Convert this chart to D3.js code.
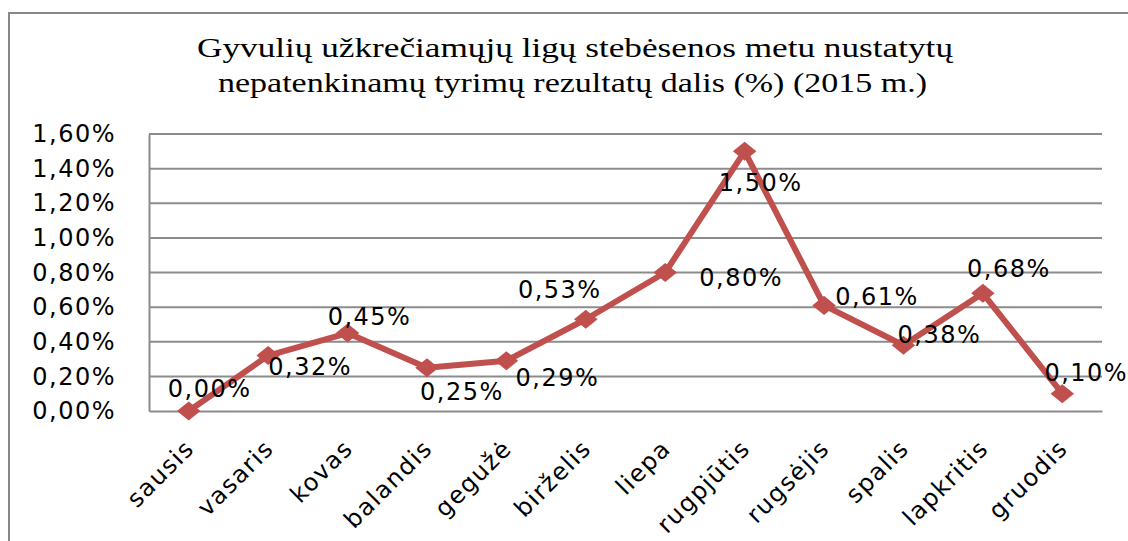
<!DOCTYPE html>
<html>
<head>
<meta charset="utf-8">
<script src="https://cdn.jsdelivr.net/npm/d3@7"></script>
<style>
  body { margin: 0; background: #fff; }
  svg { display: block; }
</style>
</head>
<body>
<script>
// chart data
const months = ['sausis', 'vasaris', 'kovas', 'balandis', 'gegužė', 'birželis',
  'liepa', 'rugpjūtis', 'rugsėjis', 'spalis', 'lapkritis', 'gruodis'];
const values = [0.00, 0.32, 0.45, 0.25, 0.29, 0.53, 0.80, 1.50, 0.61, 0.38, 0.68, 0.10];
const yTicks = [0, 0.2, 0.4, 0.6, 0.8, 1.0, 1.2, 1.4, 1.6];
const titleLines = [
  'Gyvulių užkrečiamųjų  ligų stebėsenos metu nustatytų',
  'nepatenkinamų tyrimų rezultatų dalis (%) (2015  m.)',
];

// where each value label sits, relative to its point (layout only)
const labelShift = [[21, -23], [42, 11], [22, -17], [35, 24], [51, 17], [-26, -30],
  [76, 5], [16, 31], [53, -9], [36, -11], [26, -25], [24, -21]];

const width = 1128;
const height = 541;
const plot = { left: 149, right: 1102, top: 134, bottom: 411 };
const red = '#c0504d';
const gridColor = '#8c8c8c';
const sans = '"DejaVu Sans", Verdana, sans-serif';

const fmt = v => `${v.toFixed(2).replace('.', ',')}%`;

const svg = d3.select('body').append('svg')
  .attr('width', width)
  .attr('height', height);

// outer frame of the chart
svg.append('rect')
  .attr('x', 9).attr('y', 13)
  .attr('width', 1200).attr('height', 600)
  .attr('fill', 'none')
  .attr('stroke', '#878787')
  .attr('stroke-width', 2);

// title
svg.append('g').selectAll('text')
  .data(titleLines)
  .enter()
  .append('text')
  .attr('x', (d, i) => (i === 0 ? 197 : 218))
  .attr('y', (d, i) => 57 + i * 35)
  .attr('textLength', (d, i) => (i === 0 ? 756 : 709))
  .attr('lengthAdjust', 'spacingAndGlyphs')
  .attr('font-family', '"Liberation Serif", "Times New Roman", serif')
  .attr('font-size', 27)
  .attr('fill', '#000')
  .text(d => d);

const x = d3.scaleBand()
  .domain(months)
  .range([plot.left, plot.right]);

const y = d3.scaleLinear()
  .domain([0, 1.6])
  .range([plot.bottom, plot.top]);

// gridlines
svg.append('g')
  .selectAll('line')
  .data(yTicks.slice(1))
  .enter()
  .append('line')
  .attr('x1', plot.left)
  .attr('x2', plot.right)
  .attr('y1', d => y(d))
  .attr('y2', d => y(d))
  .attr('stroke', gridColor)
  .attr('stroke-width', 2);

// y axis
const yAxis = svg.append('g')
  .attr('transform', `translate(${plot.left},0)`)
  .call(d3.axisLeft(y).tickValues(yTicks).tickFormat(fmt).tickSize(0).tickPadding(33));
yAxis.select('.domain').attr('stroke', gridColor).attr('stroke-width', 2);
yAxis.selectAll('text')
  .attr('font-family', sans)
  .attr('font-size', 24)
  .attr('letter-spacing', 1.5)
  .attr('fill', '#000');

// x axis
const xAxis = svg.append('g')
  .attr('transform', `translate(0,${plot.bottom})`)
  .call(d3.axisBottom(x).tickSize(0).tickPadding(0));
xAxis.select('.domain').attr('stroke', gridColor).attr('stroke-width', 2);
xAxis.selectAll('text')
  .attr('font-family', sans)
  .attr('font-size', 24)
  .attr('letter-spacing', 1.5)
  .attr('fill', '#000')
  .attr('text-anchor', 'end')
  .attr('dy', '0.35em')
  .attr('transform', 'translate(1,33) rotate(-45)');

// series line
const line = d3.line()
  .x((d, i) => x(months[i]) + x.bandwidth() / 2)
  .y(d => y(d));

svg.append('path')
  .datum(values)
  .attr('d', line)
  .attr('fill', 'none')
  .attr('stroke', red)
  .attr('stroke-width', 6)
  .attr('stroke-linejoin', 'round');

// diamond markers
const diamond = d3.symbol().type(d3.symbolDiamond2).size(320);
svg.append('g')
  .selectAll('path')
  .data(values)
  .enter()
  .append('path')
  .attr('d', diamond)
  .attr('transform', (d, i) => `translate(${x(months[i]) + x.bandwidth() / 2},${y(d)}) scale(1.05,0.85)`)
  .attr('fill', red);

// value labels
svg.append('g')
  .selectAll('text')
  .data(values)
  .enter()
  .append('text')
  .attr('x', (d, i) => x(months[i]) + x.bandwidth() / 2 + labelShift[i][0])
  .attr('y', (d, i) => y(d) + labelShift[i][1])
  .attr('dy', '0.36em')
  .attr('text-anchor', 'middle')
  .attr('font-family', sans)
  .attr('font-size', 24)
  .attr('letter-spacing', 1.5)
  .attr('fill', '#000')
  .text(fmt);
</script>
</body>
</html>
